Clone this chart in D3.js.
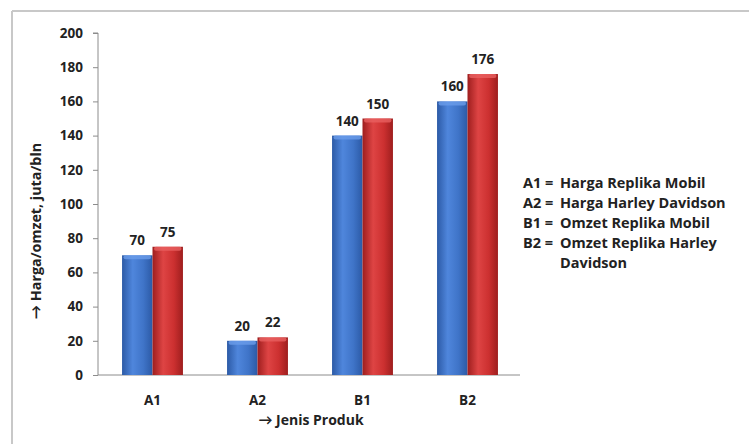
<!DOCTYPE html>
<html>
<head>
<meta charset="utf-8">
<script src="https://cdn.jsdelivr.net/npm/d3@7"></script>
<style>
  body { margin: 0; background: #fff; }
  svg { display: block; font-family: "Open Sans", Lato, sans-serif; font-weight: bold; }
</style>
</head>
<body>
<svg id="chart" width="749" height="444"></svg>
<script>
const categories = ["A1", "A2", "B1", "B2"];
const seriesNames = ["harga", "omzet"];
const blueValues = [70, 20, 140, 160];
const redValues = [75, 22, 150, 176];
const yTicks = [0, 20, 40, 60, 80, 100, 120, 140, 160, 180, 200];
const legendLines = [
	["A1 =", "Harga Replika Mobil"],
	["A2 =", "Harga Harley Davidson"],
	["B1 =", "Omzet Replika Mobil"],
	["B2 =", "Omzet Replika Harley"],
	["", "Davidson"]
];

const svg = d3.select("#chart");

// frame (only top and left edges visible)
svg.append("line").attr("x1", 12).attr("y1", 11).attr("x2", 749).attr("y2", 11)
	.attr("stroke", "#c8c8c8").attr("stroke-width", 2);
svg.append("line").attr("x1", 12).attr("y1", 11).attr("x2", 12).attr("y2", 444)
	.attr("stroke", "#c8c8c8").attr("stroke-width", 2);

const defs = svg.append("defs");
function cyl(id, edge, mid, light) {
	const g = defs.append("linearGradient").attr("id", id)
		.attr("x1", "0%").attr("x2", "100%").attr("y1", "0%").attr("y2", "0%");
	g.append("stop").attr("offset", "0%").attr("stop-color", edge);
	g.append("stop").attr("offset", "35%").attr("stop-color", light);
	g.append("stop").attr("offset", "70%").attr("stop-color", mid);
	g.append("stop").attr("offset", "100%").attr("stop-color", edge);
}
cyl("gBlue", "#2c5aa6", "#3f74c8", "#4f86dc");
cyl("gRed", "#9e1e1e", "#cc3030", "#de4444");

const x0 = d3.scaleBand().domain(categories).range([100, 520])
	.paddingInner(0.42).paddingOuter(0.21);
const x1 = d3.scaleBand().domain(seriesNames).range([0, x0.bandwidth()]);
const y = d3.scaleLinear().domain([0, 200]).range([375, 33]);

// y axis
const yAxis = svg.append("g").attr("transform", "translate(98,0)")
	.call(d3.axisLeft(y).tickValues(yTicks).tickSize(5).tickPadding(10));
yAxis.selectAll("path, line").attr("stroke", "#8c8c8c");
yAxis.select(".domain").attr("d", `M-5,${y(200)}H0V${y(0)}`);
yAxis.selectAll("text").attr("font-size", 13.5).attr("font-weight", "bold")
	.attr("fill", "#222").attr("font-family", "'Open Sans', sans-serif");

// x axis baseline
svg.append("line").attr("x1", 98).attr("x2", 520).attr("y1", y(0)).attr("y2", y(0))
	.attr("stroke", "#8c8c8c");

const data = categories.map((c, i) => ({ cat: c, vals: [
	{ s: "harga", v: blueValues[i], fill: "url(#gBlue)", cap: "#6a9cea" },
	{ s: "omzet", v: redValues[i], fill: "url(#gRed)", cap: "#e86060" }
]}));

const groups = svg.append("g").selectAll("g").data(data).join("g")
	.attr("transform", d => `translate(${x0(d.cat)},0)`);

groups.selectAll("rect.bar").data(d => d.vals).join("rect")
	.attr("class", "bar")
	.attr("x", d => x1(d.s))
	.attr("y", d => y(d.v))
	.attr("width", x1.bandwidth())
	.attr("height", d => y(0) - y(d.v))
	.attr("fill", d => d.fill);

groups.selectAll("rect.cap").data(d => d.vals).join("rect")
	.attr("class", "cap")
	.attr("x", d => x1(d.s) + 1.5)
	.attr("y", d => y(d.v))
	.attr("width", x1.bandwidth() - 3)
	.attr("height", 4)
	.attr("rx", 2)
	.attr("fill", d => d.cap)
	.attr("opacity", 0.8);

groups.selectAll("text.val").data(d => d.vals).join("text")
	.attr("class", "val")
	.attr("x", d => x1(d.s) + x1.bandwidth() / 2)
	.attr("y", d => y(d.v) - 10)
	.attr("text-anchor", "middle")
	.attr("font-size", 13.5)
	.attr("fill", "#222")
	.text(d => d.v);

// category labels
svg.append("g").selectAll("text").data(categories).join("text")
	.attr("x", d => x0(d) + x0.bandwidth() / 2)
	.attr("y", 405)
	.attr("text-anchor", "middle")
	.attr("font-size", 13.5)
	.attr("fill", "#222")
	.text(d => d);

// axis titles
svg.append("text")
	.attr("x", 311).attr("y", 425)
	.attr("text-anchor", "middle")
	.attr("font-size", 14)
	.attr("fill", "#222")
	.text("\u2192  Jenis Produk");

svg.append("text")
	.attr("transform", "translate(41,231) rotate(-90)")
	.attr("text-anchor", "middle")
	.attr("font-size", 14.3)
	.attr("fill", "#222")
	.text("\u2192  Harga/omzet, juta/bln");

// legend
const leg = svg.append("g").attr("transform", "translate(523,188)");
legendLines.forEach((l, i) => {
	leg.append("text").attr("x", 0).attr("y", i * 20)
		.attr("font-size", 14.5).attr("fill", "#222").text(l[0]);
	leg.append("text").attr("x", 37).attr("y", i * 20)
		.attr("font-size", 14.5).attr("fill", "#222").text(l[1]);
});
</script>
</body>
</html>
